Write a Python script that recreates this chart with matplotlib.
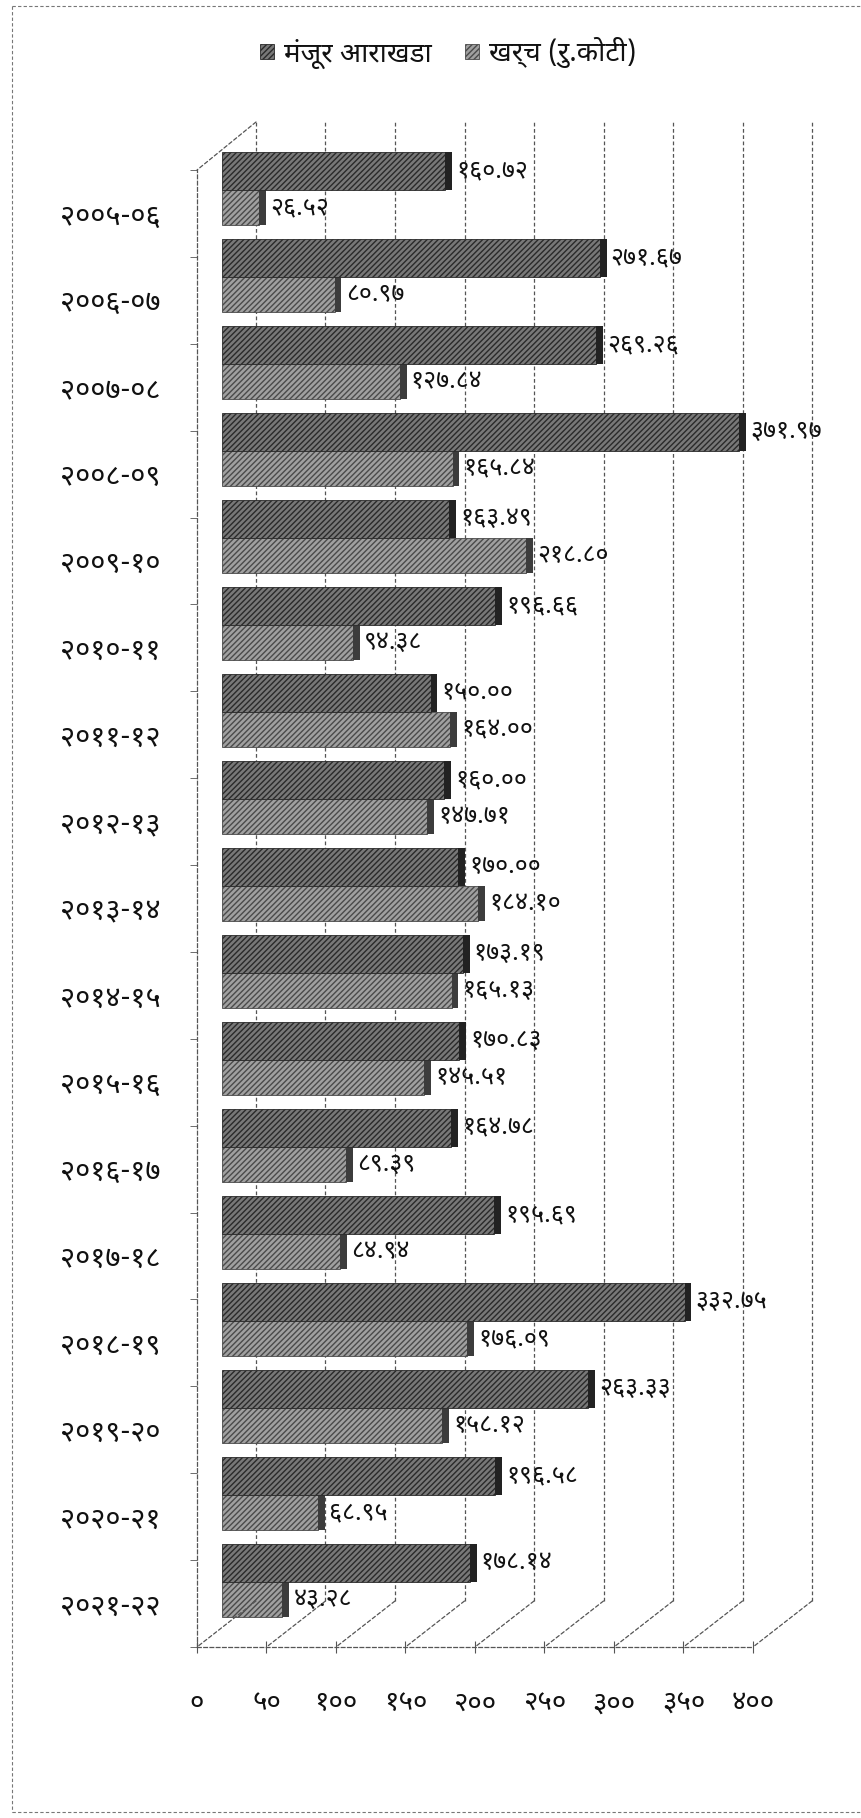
import matplotlib.pyplot as plt
from matplotlib import font_manager
from matplotlib.lines import Line2D
from matplotlib.patches import Patch, ConnectionPatch

# data
years = ['२००५-०६', '२००६-०७', '२००७-०८', '२००८-०९', '२००९-१०', '२०१०-११',
         '२०११-१२', '२०१२-१३', '२०१३-१४', '२०१४-१५', '२०१५-१६', '२०१६-१७',
         '२०१७-१८', '२०१८-१९', '२०१९-२०', '२०२०-२१', '२०२१-२२']
approved = [160.72, 271.67, 269.26, 371.97, 163.49, 196.66, 150.00, 160.00, 170.00,
            173.19, 170.83, 164.78, 195.69, 332.75, 263.33, 196.58, 178.14]
spent = [26.52, 80.97, 127.84, 165.84, 218.80, 94.38, 164.00, 147.71, 184.10,
         165.13, 145.51, 89.39, 84.94, 176.09, 158.12, 68.95, 43.28]
x_ticks = [0, 50, 100, 150, 200, 250, 300, 350, 400]
series_names = ['मंजूर आराखडा', 'खर्च (रु.कोटी)']

DEV = str.maketrans('0123456789', '०१२३४५६७८९')


def dev(s):
    return str(s).translate(DEV)


# devanagari font: take the first one of these that is installed
installed = {f.name for f in font_manager.fontManager.ttflist}
wanted = ['Noto Sans Devanagari', 'Annapurna SIL', 'FreeSans', 'Amiko']
deva = [w for w in wanted if w in installed][:1]
plt.rcParams['font.family'] = deva + ['DejaVu Sans']

W, H = 862, 1818
fig = plt.figure(figsize=(W / 100, H / 100), dpi=100)


def px_axes(x0, y0, x1, y1):
    return fig.add_axes([x0 / W, 1 - y1 / H, (x1 - x0) / W, (y1 - y0) / H])


n = len(years)
dash = (0, (3, 2))
line_c = '#555555'
text_c = '#111111'

# back wall with gridlines
ax_back = px_axes(256, 122, 812, 1601)
ax_back.set_xlim(0, 400)
ax_back.set_ylim(n, 0)
ax_back.axis('off')
for t in x_ticks:
    ax_back.axvline(t, color=line_c, lw=0.9, ls=dash, clip_on=False)

# front plane: category labels and value axis
ax_front = px_axes(197, 170, 753, 1647)
ax_front.set_xlim(0, 400)
ax_front.set_ylim(n, 0)
ax_front.patch.set_alpha(0)
for s in ['top', 'right']:
    ax_front.spines[s].set_visible(False)
for s in ['left', 'bottom']:
    ax_front.spines[s].set_linestyle(dash)
    ax_front.spines[s].set_color(line_c)
    ax_front.spines[s].set_linewidth(0.9)
ax_front.set_xticks(x_ticks)
ax_front.set_xticklabels([dev(t) for t in x_ticks])
ax_front.tick_params(axis='x', direction='inout', length=9, color=line_c,
                     pad=26, labelsize=20, labelcolor=text_c)
ax_front.set_yticks([i + 0.5 for i in range(n)])
ax_front.set_yticklabels(years)
ax_front.tick_params(axis='y', length=0, pad=26, labelsize=21, labelcolor=text_c)
ax_front.set_yticks(range(n + 1), minor=True)
ax_front.tick_params(axis='y', which='minor', length=5, color=line_c)

# floor diagonals and top-left edge
for t in x_ticks:
    fig.add_artist(ConnectionPatch((t, n), (t, n), 'data', 'data',
                                   axesA=ax_back, axesB=ax_front,
                                   color=line_c, lw=0.9, ls=dash))
fig.add_artist(ConnectionPatch((0, 0), (0, 0), 'data', 'data',
                               axesA=ax_back, axesB=ax_front,
                               color=line_c, lw=0.9, ls=dash))

# bars
ax_bar = px_axes(222, 150, 778, 1629)
ax_bar.set_xlim(0, 400)
ax_bar.set_ylim(n, 0)
ax_bar.axis('off')

pos = list(range(n))
y_app = [p + 0.24 for p in pos]
y_sp = [p + 0.66 for p in pos]
cap = 5

ax_bar.barh(y_sp, spent, height=0.40, color='#a0a0a0', edgecolor='#4a4a4a',
            hatch='//////', lw=0.6)
ax_bar.barh(y_sp, [cap] * n, left=spent, height=0.40, color='#3c3c3c', lw=0)
ax_bar.barh(y_app, approved, height=0.44, color='#787878', edgecolor='#2a2a2a',
            hatch='//////', lw=0.6)
ax_bar.barh(y_app, [cap] * n, left=approved, height=0.44, color='#222222', lw=0)

for y, v in zip(y_app, approved):
    ax_bar.text(v + 8, y, dev(f'{v:.2f}'), va='center', ha='left',
                fontsize=18, fontweight='medium', color=text_c)
for y, v in zip(y_sp, spent):
    ax_bar.text(v + 8, y, dev(f'{v:.2f}'), va='center', ha='left',
                fontsize=18, fontweight='medium', color=text_c)

# legend
handles = [Patch(facecolor='#787878', edgecolor='#2a2a2a', hatch='//////', lw=0.6),
           Patch(facecolor='#a0a0a0', edgecolor='#4a4a4a', hatch='//////', lw=0.6)]
fig.legend(handles, series_names, loc='center', bbox_to_anchor=(0.52, 1 - 53 / H),
           ncol=2, frameon=False, fontsize=20, handlelength=0.5, handleheight=0.5,
           handletextpad=0.35, columnspacing=1.2, labelcolor=text_c)

# scanned page border
fig.add_artist(Line2D([12 / W, 12 / W], [1 - 6 / H, 1 - 1812 / H], color='#777777',
                      lw=0.8, ls=dash))
fig.add_artist(Line2D([12 / W, 1], [1 - 6 / H, 1 - 6 / H], color='#777777',
                      lw=0.8, ls=dash))
fig.add_artist(Line2D([12 / W, 1], [1 - 1812 / H, 1 - 1812 / H], color='#777777',
                      lw=0.8, ls=dash))

fig.savefig('out.png', dpi=100)
